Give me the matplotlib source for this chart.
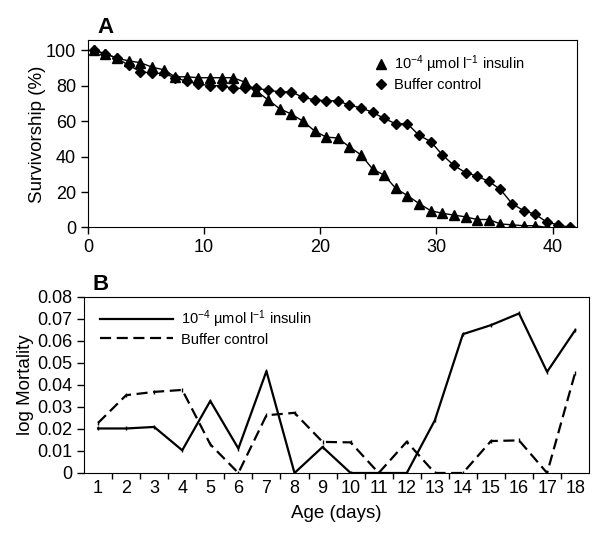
import matplotlib
matplotlib.use("Agg")
import matplotlib.pyplot as plt
from matplotlib.lines import Line2D

plt.rcParams['font.family'] = ['Liberation Sans', 'DejaVu Sans']
plt.rcParams['mathtext.fontset'] = 'custom'
plt.rcParams['mathtext.rm'] = 'Liberation Sans'
plt.rcParams['mathtext.it'] = 'Liberation Sans:italic'

# Panel A: survivorship (%), one point per day
insulin_surv = [100, 98, 95.5, 94, 93, 90.5, 89, 85, 85, 84.5, 84.5, 84.5, 84.5, 82,
                77, 72, 67, 64, 60, 54.5, 51, 50.5, 45.5, 41, 33, 29.5, 22, 18, 13.5,
                9.5, 8, 7, 6, 4.5, 4.5, 2, 1.5, 1, 1, 0]
buffer_surv = [100, 98, 95.5, 91.5, 88, 87, 87, 84.5, 82.5, 81, 80, 80, 78.5, 78.5,
               78.5, 77.5, 76.5, 76.5, 73.5, 72, 71.5, 71.5, 69, 67.5, 65, 61.5, 58.5,
               58.5, 52, 48.5, 41, 35, 31, 29, 26, 21.5, 13.5, 9.5, 7.5, 3, 1.5, 0]
insulin_days = [0.5 + i for i in range(len(insulin_surv))]
buffer_days = [0.5 + i for i in range(len(buffer_surv))]

# Panel B: log mortality by age (days)
ages = list(range(1, 19))
insulin_mort = [0.0202, 0.0202, 0.0209, 0.0103, 0.0327, 0.0111, 0.0462, 0.0, 0.0118,
                0.0, 0.0, 0.0, 0.0239, 0.0630, 0.0671, 0.0724, 0.0459, 0.0648]
buffer_mort = [0.0227, 0.0353, 0.0368, 0.0377, 0.0130, 0.0, 0.0262, 0.0273, 0.0141,
               0.0139, 0.0, 0.0142, 0.0, 0.0, 0.0145, 0.0148, 0.0, 0.0455]

insulin_label = r'10$^{-4}$ µmol l$^{-1}$ insulin'
buffer_label = 'Buffer control'

fig = plt.figure(figsize=(6.0, 5.35), dpi=100)

# ---- Panel A
axA = fig.add_axes([0.1467, 0.5748, 0.815, 0.3495])
axA.plot(insulin_days, insulin_surv, color='black', lw=1, marker='^', ms=7.5)
axA.plot(buffer_days, buffer_surv, color='black', lw=1, marker='D', ms=5)
axA.set_xlim(0, 42.1)
axA.set_ylim(0, 105.5)
axA.set_xticks([0, 10, 20, 30, 40])
axA.set_yticks([0, 20, 40, 60, 80, 100])
axA.tick_params(labelsize=13, length=5, width=1)
axA.set_ylabel('Survivorship (%)', fontsize=13.5, labelpad=0)
handlesA = [Line2D([], [], color='black', ls='none', marker='^', ms=7.5),
            Line2D([], [], color='black', ls='none', marker='D', ms=5)]
axA.legend(handlesA, [insulin_label, buffer_label], loc='upper left',
           bbox_to_anchor=(0.56, 1.0), frameon=False, fontsize=10.5,
           handlelength=0.8, handletextpad=0.5, labelspacing=0.2)
fig.text(0.162, 0.938, 'A', fontsize=16, fontweight='bold')

# ---- Panel B
axB = fig.add_axes([0.14, 0.1159, 0.842, 0.3295])
axB.plot(ages, insulin_mort, color='black', lw=1.6, marker='|', ms=3)
axB.plot(ages, buffer_mort, color='black', lw=1.6, ls=(0, (5, 2.5)), marker='|', ms=3)
axB.set_xlim(0.5, 18.5)
axB.set_ylim(0, 0.08)
axB.set_xticks([a + 0.5 for a in ages[:-1]])
axB.set_xticklabels([])
axB.set_xticks(ages, minor=True)
axB.set_xticklabels([str(a) for a in ages], minor=True)
axB.tick_params(axis='x', which='minor', length=0, labelsize=13, pad=5)
axB.tick_params(axis='x', which='major', length=4, width=1)
axB.set_yticks([0, 0.01, 0.02, 0.03, 0.04, 0.05, 0.06, 0.07, 0.08])
axB.set_yticklabels(['0', '0.01', '0.02', '0.03', '0.04', '0.05', '0.06', '0.07', '0.08'])
axB.tick_params(axis='y', labelsize=13, length=5, width=1)
axB.set_xlabel('Age (days)', fontsize=13.5, labelpad=6)
axB.set_ylabel('log Mortality', fontsize=13.5, labelpad=2)
handlesB = [Line2D([], [], color='black', lw=1.6),
            Line2D([], [], color='black', lw=1.6, ls=(0, (5, 2.5)))]
axB.legend(handlesB, [insulin_label, buffer_label], loc='upper left',
           bbox_to_anchor=(0.005, 1.01), frameon=False, fontsize=10.5,
           handlelength=5.0, handletextpad=0.6, labelspacing=0.2)
fig.text(0.155, 0.458, 'B', fontsize=16, fontweight='bold')

fig.savefig('out.png', dpi=100)
